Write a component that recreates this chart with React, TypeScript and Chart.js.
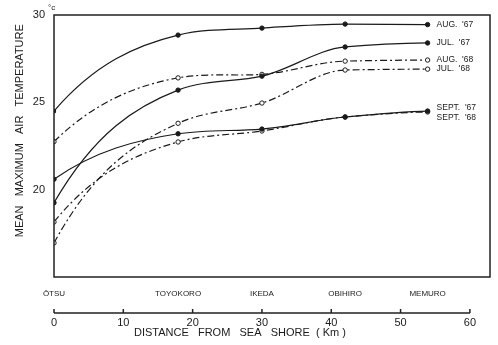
import React, { useEffect, useRef } from 'react';
import { Chart, registerables } from 'chart.js';

Chart.register(...registerables);

const stations = ['ŌTSU', 'TOYOKORO', 'IKEDA', 'OBIHIRO', 'MEMURO'];
const stationKm = [0, 17.9, 30.0, 42.0, 53.9];
const distanceTicks = [0, 10, 20, 30, 40, 50, 60];
const tempTicks = [20, 25, 30];

const seriesNames = ["AUG.  '67", "JUL.  '67", "AUG.  '68", "JUL.  '68", "SEPT.  '67", "SEPT.  '68"];
const aug67 = [24.5, 28.85, 29.25, 29.48, 29.45];
const jul67 = [19.25, 25.7, 26.5, 28.17, 28.4];
const aug68 = [22.75, 26.4, 26.6, 27.36, 27.42];
const jul68 = [16.95, 23.8, 24.96, 26.85, 26.9];
const sept67 = [20.6, 23.2, 23.47, 24.16, 24.5];
const sept68 = [18.15, 22.73, 23.36, 24.16, 24.45];

const FONT = "'Liberation Sans', 'DejaVu Sans', sans-serif";
const INK = '#1a1a1a';
const DASHDOT = [7, 3, 2, 3];

const labelOffsets = [0, 0, 0, 0, -3, 6];

export default function App() {
  const ref = useRef<HTMLCanvasElement | null>(null);

  useEffect(() => {
    document.body.style.margin = '0';
    const canvas = ref.current;
    if (!canvas) return;

    const all = [aug67, jul67, aug68, jul68, sept67, sept68];
    const filled = [true, true, false, false, true, false];
    const dashed = [false, false, true, true, false, true];

    const datasets = all.map((vals, i) => ({
      label: seriesNames[i],
      data: vals.map((v, j) => ({ x: stationKm[j], y: v })),
      borderColor: INK,
      borderWidth: 1.2,
      borderDash: dashed[i] ? DASHDOT : [],
      pointRadius: 2.2,
      pointStyle: i === 0 ? ['rect', 'circle', 'circle', 'circle', 'circle'] : 'circle',
      pointBackgroundColor: filled[i] ? INK : '#ffffff',
      pointBorderColor: INK,
      pointBorderWidth: 1,
      tension: 0.4,
      fill: false,
    }));

    // hand-drawn style smoothing: steep rise from the coast, monotone afterwards
    const shape = {
      id: 'shape',
      beforeDatasetsDraw(chart: any) {
        chart.data.datasets.forEach((_d: any, di: number) => {
          const meta = chart.getDatasetMeta(di);
          meta.dataset.updateControlPoints(chart.chartArea, 'x');
          const pts = meta.data;
          const n = pts.length;
          const s: number[] = [];
          for (let i = 0; i < n - 1; i++) s.push((pts[i + 1].y - pts[i].y) / (pts[i + 1].x - pts[i].x));
          const m: number[] = new Array(n).fill(0);
          for (let i = 1; i < n - 1; i++) {
            if (i === 1) m[i] = 0.3 * s[0] + 0.7 * s[1];
            else if (s[i - 1] * s[i] <= 0) m[i] = 0;
            else m[i] = (2 * s[i - 1] * s[i]) / (s[i - 1] + s[i]);
          }
          const dx0 = (pts[1].x - pts[0].x) / 3;
          const dy0 = pts[1].y - pts[0].y;
          let m0 = 1.9 * s[0];
          if (Math.abs(m0 * dx0) > 0.85 * Math.abs(dy0)) m0 = (0.85 * dy0) / dx0;
          m[0] = m0;
          m[n - 1] = 0.3 * s[n - 2];
          for (let i = 0; i < n; i++) {
            const p = pts[i];
            if (i > 0) {
              const d = (p.x - pts[i - 1].x) / 3;
              p.cp1x = p.x - d;
              p.cp1y = p.y - m[i] * d;
            }
            if (i < n - 1) {
              const d = (pts[i + 1].x - p.x) / 3;
              p.cp2x = p.x + d;
              p.cp2y = p.y + m[i] * d;
            }
          }
        });
      },
    };

    const decor = {
      id: 'decor',
      afterDatasetsDraw(chart: any) {
        const ctx = chart.ctx;
        ctx.save();
        ctx.fillStyle = INK;
        ctx.font = `8.5px ${FONT}`;
        ctx.textBaseline = 'middle';
        ctx.textAlign = 'left';
        chart.data.datasets.forEach((ds: any, i: number) => {
          const meta = chart.getDatasetMeta(i);
          const pt = meta.data[meta.data.length - 1];
          ctx.fillText(ds.label, pt.x + 9, pt.y + labelOffsets[i]);
        });
        ctx.restore();
      },
      afterDraw(chart: any) {
        const ctx = chart.ctx;
        const { left, top, right, bottom } = chart.chartArea;
        ctx.save();
        ctx.strokeStyle = '#222';
        ctx.lineWidth = 1.5;
        ctx.strokeRect(left, top, right - left, bottom - top);
        const x2 = chart.scales.x2;
        const yLine = x2.top + 6;
        const xa = x2.getPixelForValue(distanceTicks[0]);
        const xb = x2.getPixelForValue(distanceTicks[distanceTicks.length - 1]);
        ctx.beginPath();
        ctx.moveTo(xa, yLine);
        ctx.lineTo(xb, yLine);
        distanceTicks.forEach((t) => {
          const px = x2.getPixelForValue(t);
          ctx.moveTo(px, yLine);
          ctx.lineTo(px, yLine - 4);
        });
        ctx.stroke();
        const ys = chart.scales.y;
        ctx.fillStyle = INK;
        ctx.font = `8px ${FONT}`;
        ctx.textAlign = 'left';
        ctx.textBaseline = 'middle';
        ctx.fillText('°c', ys.right - 6, ys.getPixelForValue(30) - 7);
        ctx.restore();
      },
    };

    const chart = new Chart(canvas, {
      type: 'line',
      data: { datasets },
      plugins: [shape, decor],
      options: {
        animation: false,
        responsive: false,
        layout: { padding: { top: 15, right: 8, left: 0, bottom: 0 } },
        plugins: { legend: { display: false }, tooltip: { enabled: false } },
        scales: {
          y: {
            type: 'linear',
            min: 15,
            max: 30,
            afterBuildTicks: (s: any) => {
              s.ticks = tempTicks.map((v) => ({ value: v }));
            },
            afterFit: (s: any) => {
              s.width = 54;
            },
            grid: { display: false },
            border: { display: false },
            ticks: { color: INK, font: { family: FONT, size: 11 }, padding: 1 },
            title: {
              display: true,
              text: '          MEAN   MAXIMUM   AIR   TEMPERATURE',
              color: INK,
              font: { family: FONT, size: 11 },
              padding: { top: 13, bottom: 0 },
            },
          },
          x: {
            type: 'linear',
            position: 'bottom',
            min: 0,
            max: 62.9,
            afterBuildTicks: (s: any) => {
              s.ticks = stationKm.map((v) => ({ value: v }));
            },
            afterFit: (s: any) => {
              s.height = 30;
            },
            grid: { display: false },
            border: { display: false },
            ticks: {
              autoSkip: false,
              maxRotation: 0,
              padding: 4,
              color: INK,
              font: { family: FONT, size: 8 },
              callback: (_v: any, i: number) => stations[i],
            },
          },
          x2: {
            type: 'linear',
            position: 'bottom',
            min: 0,
            max: 62.9,
            afterBuildTicks: (s: any) => {
              s.ticks = distanceTicks.map((v) => ({ value: v }));
            },
            afterFit: (s: any) => {
              s.height = 38;
            },
            grid: { display: false },
            border: { display: false },
            ticks: {
              autoSkip: false,
              maxRotation: 0,
              padding: 1,
              color: INK,
              font: { family: FONT, size: 11 },
              callback: (v: any) => String(v),
            },
            title: {
              display: true,
              text: 'DISTANCE   FROM   SEA   SHORE  ( Km )                     ',
              color: INK,
              font: { family: FONT, size: 11 },
              padding: { top: 0, bottom: 5 },
            },
          },
        },
      },
    } as any);

    return () => chart.destroy();
  }, []);

  return (
    <div style={{ width: 498, height: 345 }}>
      <canvas ref={ref} width={498} height={345} style={{ display: 'block' }} />
    </div>
  );
}
